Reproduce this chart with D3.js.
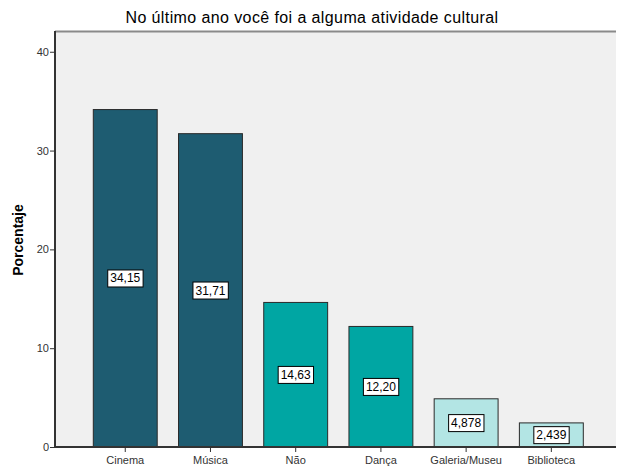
<!DOCTYPE html>
<html>
<head>
<meta charset="utf-8">
<script src="https://cdn.jsdelivr.net/npm/d3@7"></script>
<style>
  html, body { margin: 0; padding: 0; background: #ffffff; }
  svg { display: block; font-family: "Liberation Sans", Arial, sans-serif; }
</style>
</head>
<body>
<svg id="chart" width="617" height="468"></svg>
<script>
// Activity categories and percentage of respondents
const categories = ["Cinema", "Música", "Não", "Dança", "Galeria/Museu", "Biblioteca"];
const values = [34.15, 31.71, 14.63, 12.20, 4.878, 2.439];
const valueLabels = ["34,15", "31,71", "14,63", "12,20", "4,878", "2,439"];
const fills = ["#1e5c71", "#1e5c71", "#00a6a3", "#00a6a3", "#b3e5e4", "#b3e5e4"];
const yTicks = [0, 10, 20, 30, 40];

const title = "No último ano você foi a alguma atividade cultural";
const yTitle = "Porcentaje";

const svg = d3.select("#chart");
const plot = { left: 55, right: 616, top: 31, bottom: 447 };

const y = d3.scaleLinear().domain([0, 42.1]).range([plot.bottom, plot.top]);
const x = d3.scaleBand()
  .domain(categories)
  .range([93.3, 583.3])
  .paddingInner(0.25)
  .paddingOuter(0);

// plot background
svg.append("rect")
  .attr("x", plot.left).attr("y", plot.top)
  .attr("width", plot.right - plot.left).attr("height", plot.bottom - plot.top)
  .attr("fill", "#f0f0f0");

// top frame line
svg.append("line")
  .attr("x1", plot.left).attr("x2", plot.right)
  .attr("y1", plot.top + 0.5).attr("y2", plot.top + 0.5)
  .attr("stroke", "#8a8a8a").attr("stroke-width", 2);

// bars
svg.append("g").selectAll("rect")
  .data(categories)
  .join("rect")
  .attr("x", d => x(d))
  .attr("y", (d, i) => y(values[i]))
  .attr("width", x.bandwidth())
  .attr("height", (d, i) => y(0) - y(values[i]))
  .attr("fill", (d, i) => fills[i])
  .attr("stroke", "#2a2a2a")
  .attr("stroke-width", 1);

// value labels in boxes at mid-height of each bar
const lab = svg.append("g").selectAll("g")
  .data(categories)
  .join("g")
  .attr("transform", (d, i) => `translate(${x(d) + x.bandwidth() / 2},${y(values[i] / 2)})`);

lab.append("text")
  .attr("text-anchor", "middle")
  .attr("dy", "0.35em")
  .attr("font-size", 12)
  .attr("fill", "#000")
  .text((d, i) => valueLabels[i])
  .each(function () {
    const b = this.getBBox();
    d3.select(this.parentNode).insert("rect", "text")
      .attr("x", b.x - 2.5).attr("y", b.y - 1.5)
      .attr("width", b.width + 5).attr("height", b.height + 3)
      .attr("fill", "#fff").attr("stroke", "#000").attr("stroke-width", 1);
  });

// y axis
const yAxis = svg.append("g")
  .attr("transform", `translate(${plot.left},0)`)
  .call(d3.axisLeft(y).tickValues(yTicks).tickSize(5).tickSizeOuter(0));
yAxis.select(".domain").attr("stroke", "#333").attr("stroke-width", 2)
  .attr("d", `M0,${plot.top}V${plot.bottom}`);
yAxis.selectAll(".tick line").attr("stroke", "#333");
yAxis.selectAll(".tick text").attr("font-size", 11).attr("fill", "#333")
  .attr("font-family", "Liberation Sans, Arial, sans-serif").attr("x", -6);

// x axis
const xAxis = svg.append("g")
  .attr("transform", `translate(0,${plot.bottom})`)
  .call(d3.axisBottom(x).tickSize(5).tickSizeOuter(0));
xAxis.select(".domain").attr("stroke", "#333").attr("stroke-width", 2)
  .attr("d", `M${plot.left},0H${plot.right}`);
xAxis.selectAll(".tick line").attr("stroke", "#333");
xAxis.selectAll(".tick text").attr("font-size", 11).attr("fill", "#333")
  .attr("font-family", "Liberation Sans, Arial, sans-serif").attr("y", 9);

// titles
svg.append("text")
  .attr("x", 312).attr("y", 23)
  .attr("text-anchor", "middle")
  .attr("font-size", 16)
  .attr("letter-spacing", 0.4)
  .attr("fill", "#000")
  .text(title);

svg.append("text")
  .attr("transform", "translate(23,240) rotate(-90)")
  .attr("text-anchor", "middle")
  .attr("font-size", 14)
  .attr("font-weight", "bold")
  .attr("fill", "#000")
  .text(yTitle);
</script>
</body>
</html>
